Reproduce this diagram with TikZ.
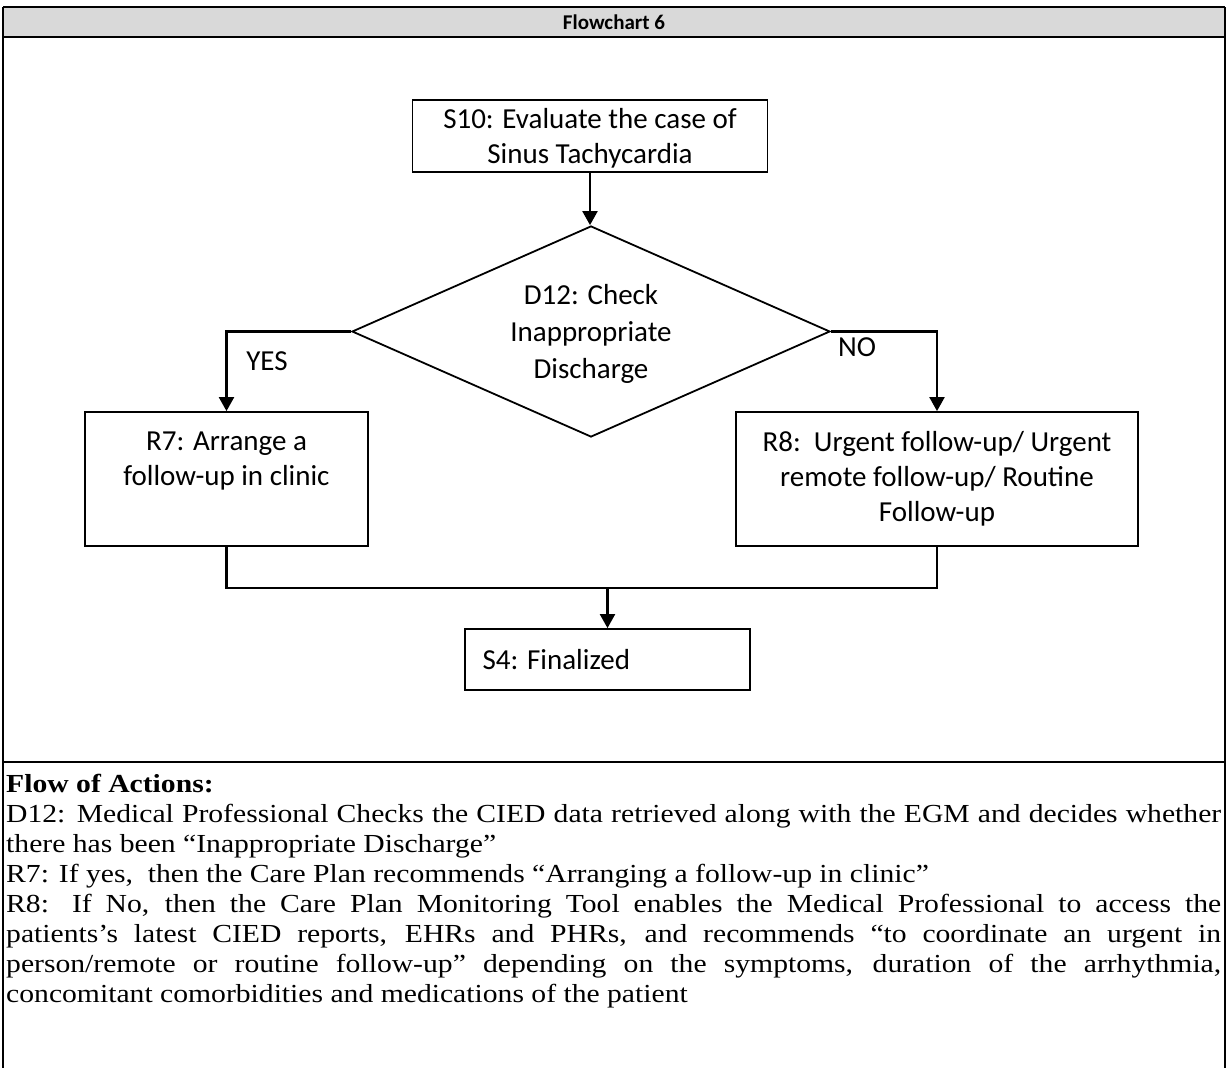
\documentclass[tikz,border=0pt]{standalone}
\usepackage{fontspec}
\setmainfont{Liberation Serif}
\newfontfamily\bodyfont[FakeStretch=1.14]{Liberation Serif}
\newfontfamily\calibri{Carlito}
\usetikzlibrary{shapes.geometric,arrows.meta,calc}
\definecolor{headgray}{HTML}{D9D9D9}

\tikzset{
  rule/.style={line width=2pt},
  box/.style={draw, line width=1.8pt, inner sep=0pt},
  chart/.style={font=\calibri\fontsize{29}{35}\selectfont, align=center},
  conn/.style={line width=2.2pt},
  arr/.style={conn, -{Triangle[width=15pt,length=14pt]}},
}

\begin{document}
\begin{tikzpicture}[x=1pt,y=-1pt]
\useasboundingbox (0,0) rectangle (1227,1068);

% table frame and header row
\fill[headgray] (3,7) rectangle (1225,37);
\draw[rule] (3,7) -- (1225,7);
\draw[rule] (3,37) -- (1225,37);
\draw[rule] (3,762) -- (1225,762);
\draw[rule] (3,7) -- (3,1068);
\draw[rule] (1225,7) -- (1225,1068);
\node[font=\calibri\bfseries\fontsize{21}{25}\selectfont] (title) at (614,22) {Flowchart 6};

% flowchart nodes
\node[box, minimum width=355, minimum height=72] (s10) at (590,136) {};
\node[chart] (s10text) at ($(s10.center)+(0,2)$) {S10: Evaluate the case of\\Sinus Tachycardia};
\node[box, diamond, aspect=2.27, minimum width=478, minimum height=211] (d12) at (591,331.5) {};
\node[chart, font=\calibri\fontsize{29}{37}\selectfont] (d12text) at ($(d12.center)+(0,2)$)
  {D12: Check\\Inappropriate\\Discharge};
\node[box, minimum width=283, minimum height=134] (r7) at (226.5,479) {};
\node[chart] (r7text) at ($(r7.center)+(0,-18)$) {R7: Arrange a\\follow-up in clinic};
\node[box, chart, minimum width=402, minimum height=134] (r8) at (937,479)
  {R8:\ \ Urgent follow-up/ Urgent\\remote follow-up/ Routine\\Follow-up};
\node[box, minimum width=285, minimum height=61] (s4) at (607.5,659.5) {};
\node[chart, anchor=west] (s4text) at ($(s4.west)+(15,0)$) {S4: Finalized};

% branch labels
\node[chart] (yes) at (267,361) {YES};
\node[chart] (no) at (857,347) {NO};

% connectors
\coordinate (merge) at (607.5,588);
\draw[arr] (s10.south) -- (s10.south |- d12.north);
\draw[arr] (d12.west) -| (r7.north);
\draw[arr] (d12.east) -| (r8.north);
\draw[conn] (r7.south) |- (merge);
\draw[conn] (r8.south) |- (merge);
\draw[arr] (merge) -- (s4.north);

% description of the actions
\node[anchor=north west, inner sep=0pt, text width=1215pt, align=justify,
      font=\bodyfont\fontsize{26}{30}\selectfont] (actions) at (6,774) {%
\setlength{\parindent}{0pt}%
\textbf{Flow of Actions:}\par
D12: Medical Professional Checks the CIED data retrieved along with the EGM and decides whether\linebreak
there has been “Inappropriate Discharge”\par
R7: If yes,\ \ then the Care Plan recommends “Arranging a follow-up in clinic”\par
R8: If No, then the Care Plan Monitoring Tool enables the Medical Professional to access the\linebreak
patients’s latest CIED reports, EHRs and PHRs, and recommends “to coordinate an urgent in\linebreak
person/remote or routine follow-up” depending on the symptoms, duration of the arrhythmia,\linebreak
concomitant comorbidities and medications of the patient\par};
\end{tikzpicture}
\end{document}
